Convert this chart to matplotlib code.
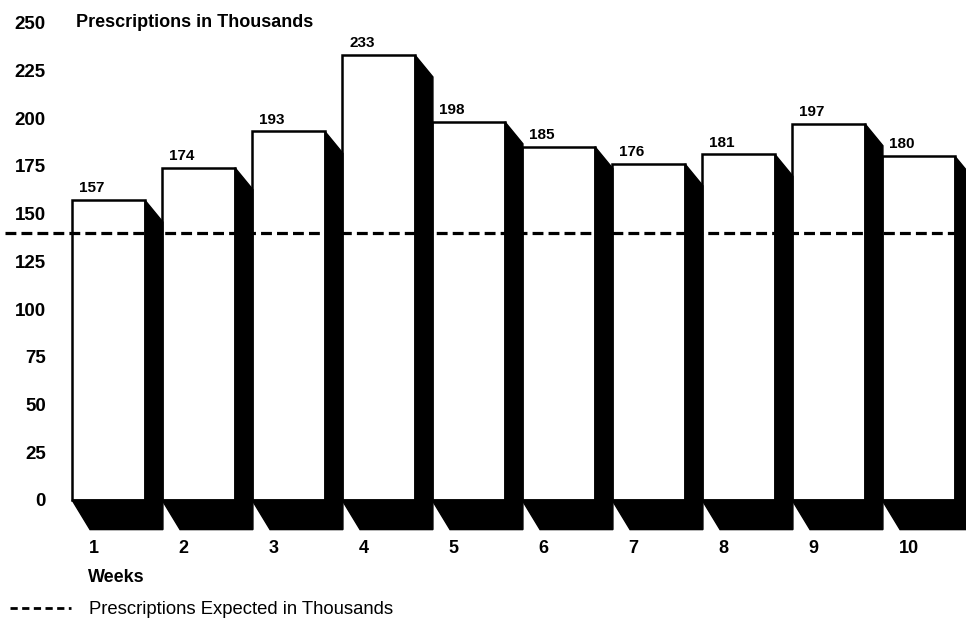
import numpy as np
import matplotlib.pyplot as plt
from matplotlib.patches import Polygon
from matplotlib.lines import Line2D

weeks = [1, 2, 3, 4, 5, 6, 7, 8, 9, 10]
prescriptions = [157, 174, 193, 233, 198, 185, 176, 181, 197, 180]
expected = 140
yticks = [0, 25, 50, 75, 100, 125, 150, 175, 200, 225, 250]

plt.rcParams['font.family'] = ['Liberation Sans', 'DejaVu Sans']

fig = plt.figure(figsize=(9.66, 6.28), dpi=100)
ax = fig.add_axes([0.0538, 0.1465, 0.9462, 0.8535])
ax.set_xlim(0.372, 10.528)
ax.set_ylim(-18.85, 261.8)

width = 0.81
dx = 0.2            # shadow depth to the right
dy_top, dy_bot = 11.5, 15.5   # shadow drop at top corner / under the bar

x = np.array(weeks, dtype=float)
ax.bar(x, prescriptions, width=width, color='white', edgecolor='black',
       linewidth=1.8, zorder=2)

dash = (0, (3.4, 1.6))
# expected line runs across the faces, under the shadows
ax.hlines(expected, -0.15, 10.6, colors='black', linestyles=dash,
          linewidth=2.3, zorder=3, clip_on=False)

for xi, h in zip(x, prescriptions):
    a, b = xi - width / 2, xi + width / 2
    shadow = Polygon([(a, 0), (a + dx, -dy_bot), (b + dx, -dy_bot),
                      (b + dx, h - dy_top), (b, h), (b, 0)], closed=True,
                     facecolor='black', edgecolor='black', linewidth=1,
                     zorder=4)
    ax.add_patch(shadow)
    ax.text(a + 0.08, h + 2.5, str(h), ha='left', va='bottom',
            fontsize=11, fontweight='bold', zorder=5)

for s in ax.spines.values():
    s.set_visible(False)

ax.set_yticks(yticks)
ax.set_yticklabels([str(t) for t in yticks], fontsize=13.5, fontweight='bold')
ax.set_xticks(x - 0.22)
ax.set_xticklabels([str(w) for w in weeks], fontsize=13, fontweight='bold')
for lab in ax.get_xticklabels():
    lab.set_ha('left')
ax.tick_params(axis='both', length=0)
ax.tick_params(axis='y', pad=4.5)
ax.tick_params(axis='x', pad=3)

ax.text(0.64, 250, 'Prescriptions in Thousands', ha='left', va='center',
        fontsize=13, fontweight='bold')

ax.set_xlabel('Weeks', fontsize=13, fontweight='bold', ha='left', va='center')
ax.xaxis.set_label_coords(0.0394, -0.0765)

handle = Line2D([], [], color='black', linestyle=(0, (2.6, 1.6)), linewidth=2.0)
fig.legend([handle], ['Prescriptions Expected in Thousands'],
           loc='center left', bbox_to_anchor=(10 / 966, 18 / 628),
           frameon=False, fontsize=13.3, handlelength=3.3, handletextpad=1.0,
           borderpad=0, borderaxespad=0)

fig.savefig('out.png', dpi=100)
